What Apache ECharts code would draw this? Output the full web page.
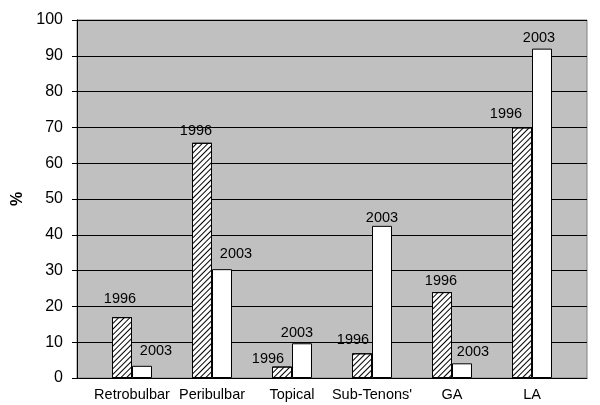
<!DOCTYPE html>
<html>
<head>
<meta charset="utf-8">
<script src="https://cdn.jsdelivr.net/npm/echarts@6/dist/echarts.min.js"></script>
<style>
  html, body { margin: 0; padding: 0; background: #fff; }
  #chart { width: 600px; height: 405px; }
</style>
</head>
<body>
<div id="chart"></div>
<script>
var categories = ["Retrobulbar", "Peribulbar", "Topical", "Sub-Tenons'", "GA", "LA"];
var values1996 = [17, 65.7, 3.2, 6.9, 24, 70];
var values2003 = [3.4, 30.4, 9.7, 42.5, 4.1, 92];
var yTicks = [0, 10, 20, 30, 40, 50, 60, 70, 80, 90, 100];

// label nudges, Excel placed them by hand
var offs1996 = [[-2, -7], [-6, 0], [-14, 4], [-9, -2], [-1, 0], [-16, -2]];
var offs2003 = [[14, -3], [14, -4], [-5, 1], [0, 4], [11, 0], [-3, 1]];

function withLabels(values, offs) {
  return values.map(function (v, i) {
    return { value: v, label: { offset: offs[i] } };
  });
}

var chartDom = document.getElementById("chart");
var myChart = echarts.init(chartDom);

var labelStyle = {
  show: true,
  position: "top",
  distance: 4,
  fontFamily: "Liberation Sans",
  fontSize: 14.5,
  color: "#000",
};

var option = {
  animation: false,
  grid: [
    {
      left: 77, top: 20, width: 510, height: 358,
      show: true,
      backgroundColor: "#c0c0c0",
      borderColor: "#808080",
      borderWidth: 1,
    },
    { left: 92, top: 20, width: 480, height: 358 },
  ],
  xAxis: [
    {
      gridIndex: 0,
      type: "value",
      min: 0,
      max: 1,
      axisLine: { show: true, lineStyle: { color: "#000", width: 1 } },
      axisTick: { show: false },
      axisLabel: { show: false },
      splitLine: { show: false },
    },
    {
      gridIndex: 1,
      type: "category",
      data: categories,
      axisLine: { show: false },
      axisTick: { show: false },
      axisLabel: {
        interval: 0,
        margin: 9,
        fontFamily: "Liberation Sans",
        fontSize: 14.5,
        color: "#000",
      },
    },
  ],
  yAxis: [
    {
      gridIndex: 0,
      type: "value",
      min: yTicks[0],
      max: yTicks[yTicks.length - 1],
      interval: yTicks[1] - yTicks[0],
      name: "%",
      nameLocation: "middle",
      nameGap: 50,
      nameTextStyle: {
        fontFamily: "Liberation Sans",
        fontSize: 16,
        fontWeight: "bold",
        color: "#000",
      },
      axisLine: { show: true, lineStyle: { color: "#000", width: 1 } },
      axisTick: { show: true, length: 5, lineStyle: { color: "#000" } },
      axisLabel: {
        margin: 14,
        fontFamily: "Liberation Sans",
        fontSize: 16,
        color: "#000",
      },
      splitLine: { show: true, lineStyle: { color: "#000", width: 1 } },
    },
    {
      gridIndex: 1,
      type: "value",
      min: 0,
      max: 100,
      show: false,
    },
  ],
  series: [
    {
      name: "1996",
      type: "bar",
      xAxisIndex: 1,
      yAxisIndex: 1,
      barWidth: 20,
      barGap: "0%",
      data: withLabels(values1996, offs1996),
      itemStyle: {
        color: "#fff",
        borderColor: "#000",
        borderWidth: 1,
        decal: {
          symbol: "rect",
          color: "#000",
          dashArrayX: [1, 0],
          dashArrayY: [1, 2.6],
          rotation: -Math.PI / 4,
        },
      },
      label: Object.assign({ formatter: "1996" }, labelStyle),
    },
    {
      name: "2003",
      type: "bar",
      xAxisIndex: 1,
      yAxisIndex: 1,
      barWidth: 20,
      barGap: "0%",
      data: withLabels(values2003, offs2003),
      itemStyle: { color: "#fff", borderColor: "#000", borderWidth: 1 },
      label: Object.assign({ formatter: "2003" }, labelStyle),
    },
  ],
};
option && myChart.setOption(option);
</script>
</body>
</html>
